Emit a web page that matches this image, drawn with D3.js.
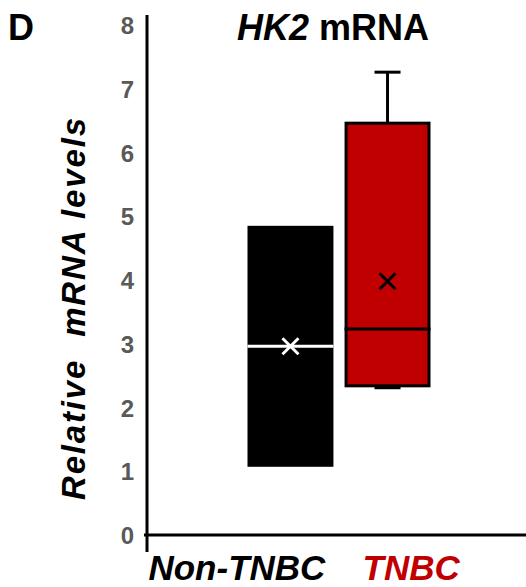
<!DOCTYPE html>
<html><head><meta charset="utf-8">
<script src="https://cdn.jsdelivr.net/npm/d3@7"></script>
<style>html,body{margin:0;padding:0;background:#fff;}svg{display:block;}</style>
</head><body>
<script>
const categories = ["Non-TNBC", "TNBC"];
const q1 = [1.07, 2.34];
const median = [2.96, 3.23];
const q3 = [4.85, 6.46];
const whiskerLow = [1.07, 2.31];
const whiskerHigh = [4.85, 7.26];
const means = [2.96, 3.98];
const yTicks = [0, 1, 2, 3, 4, 5, 6, 7, 8];

const fills = ["#000000", "#C00000"];
const boxStroke = ["none", "#000000"];
const inner = ["#ffffff", "#000000"];
const labelColors = ["#000000", "#C00000"];
const font = "'Liberation Sans', Arial, sans-serif";

const W = 526, H = 587;
const svg = d3.select("body").append("svg").attr("width", W).attr("height", H);

const y = d3.scaleLinear().domain([0, 8]).range([535, 25]);
const x = d3.scaleBand().domain(categories).range([247.5, 430.5]).paddingInner(0.1146).paddingOuter(0);
const bw = x.bandwidth();

// y axis labels
const yAxis = d3.axisLeft(y).tickValues(yTicks).tickSize(0).tickPadding(0).tickFormat(d3.format("d"));
const gy = svg.append("g").attr("transform", "translate(134,0)").call(yAxis);
gy.select(".domain").remove();
gy.selectAll("text").attr("fill", "#595959").attr("font-family", font)
  .attr("font-weight", "bold").attr("font-size", 24).attr("dy", "0.36em");

// axis lines
svg.append("line").attr("x1", 147).attr("x2", 147).attr("y1", 15).attr("y2", 552)
  .attr("stroke", "#000").attr("stroke-width", 3);
svg.append("line").attr("x1", 144).attr("x2", W).attr("y1", y(0)).attr("y2", y(0))
  .attr("stroke", "#000").attr("stroke-width", 3);

// boxes
categories.forEach((c, i) => {
  const cx = x(c) + bw / 2;
  const g = svg.append("g");
  if (whiskerHigh[i] > q3[i]) {
    g.append("line").attr("x1", cx).attr("x2", cx).attr("y1", y(q3[i])).attr("y2", y(whiskerHigh[i]))
      .attr("stroke", "#000").attr("stroke-width", 3);
    g.append("line").attr("x1", cx - 13).attr("x2", cx + 13).attr("y1", y(whiskerHigh[i])).attr("y2", y(whiskerHigh[i]))
      .attr("stroke", "#000").attr("stroke-width", 3);
  }
  if (whiskerLow[i] < q1[i]) {
    g.append("line").attr("x1", cx).attr("x2", cx).attr("y1", y(q1[i])).attr("y2", y(whiskerLow[i]))
      .attr("stroke", "#000").attr("stroke-width", 3);
    g.append("line").attr("x1", cx - 13).attr("x2", cx + 13).attr("y1", y(whiskerLow[i])).attr("y2", y(whiskerLow[i]))
      .attr("stroke", "#000").attr("stroke-width", 3);
  }
  const sw = boxStroke[i] === "none" ? 0 : 3;
  g.append("rect").attr("x", x(c) + sw / 2).attr("width", bw - sw)
    .attr("y", y(q3[i])).attr("height", y(q1[i]) - y(q3[i]))
    .attr("fill", fills[i]).attr("stroke", boxStroke[i]).attr("stroke-width", sw);
  g.append("line").attr("x1", x(c)).attr("x2", x(c) + bw).attr("y1", y(median[i])).attr("y2", y(median[i]))
    .attr("stroke", inner[i]).attr("stroke-width", 3);
  const my = y(means[i]), s = 8;
  g.append("path").attr("d", `M${cx - s},${my - s}L${cx + s},${my + s}M${cx - s},${my + s}L${cx + s},${my - s}`)
    .attr("stroke", inner[i]).attr("stroke-width", 3).attr("fill", "none");
});

// category labels
const labelOffset = [-142, -25];
categories.forEach((c, i) => {
  svg.append("text").attr("x", x(c) + bw / 2 + labelOffset[i]).attr("y", 580)
    .attr("font-family", font).attr("font-weight", "bold").attr("font-style", "italic")
    .attr("font-size", 35).attr("fill", labelColors[i]).text(c);
});

// y title
svg.append("text").attr("transform", "translate(85,500) rotate(-90)")
  .attr("font-family", font).attr("font-weight", "bold").attr("font-style", "italic")
  .attr("font-size", 33).attr("fill", "#000").attr("xml:space", "preserve")
  .style("white-space", "pre")
  .attr("textLength", 382).attr("lengthAdjust", "spacing")
  .text("Relative  mRNA levels");

// title
const t = svg.append("text").attr("x", 237).attr("y", 40)
  .attr("font-family", font).attr("font-weight", "bold").attr("font-size", 36).attr("fill", "#000");
t.append("tspan").attr("font-style", "italic").text("HK2");
t.append("tspan").text(" mRNA");

// panel letter
svg.append("text").attr("x", 8).attr("y", 40).attr("font-family", font)
  .attr("font-weight", "bold").attr("font-size", 36).attr("fill", "#000").text("D");
</script>
</body></html>
